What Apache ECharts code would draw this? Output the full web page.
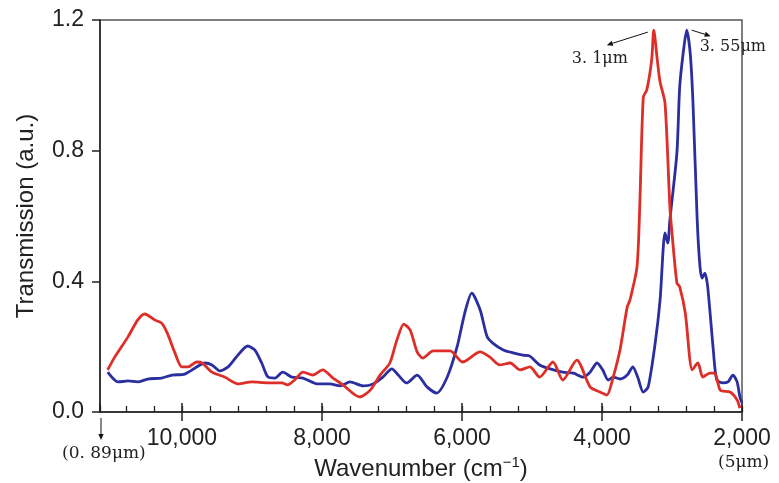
<!DOCTYPE html>
<html>
<head>
<meta charset="utf-8">
<script src="https://cdn.jsdelivr.net/npm/echarts@6/dist/echarts.min.js"></script>
<style>
  html, body { margin: 0; padding: 0; background: #fff; }
  #chart { width: 779px; height: 483px; }
</style>
</head>
<body>
<div id="chart"></div>
<script>
// Transmission spectra of two samples, wavenumber in cm^-1 (axis runs high to low)
const redWavenumber = [11060, 10960, 10770, 10630, 10530, 10390, 10290, 10210, 10100, 10000,
  9910, 9790, 9710, 9570, 9390, 9200, 9000, 8770, 8570, 8490,
  8390, 8270, 8130, 7990, 7840, 7700, 7460, 7310, 7170, 7030,
  6930, 6830, 6740, 6640, 6560, 6410, 6170, 5990, 5740, 5600,
  5460, 5310, 5170, 5030, 4890, 4700, 4560, 4360, 4170, 4030,
  3930, 3840, 3740, 3640, 3600, 3500, 3460, 3410, 3360, 3290,
  3260, 3210, 3170, 3100, 3030, 3000, 2930, 2890, 2810, 2710,
  2630, 2560, 2460, 2390, 2310, 2170, 2070, 2030];
const redValue = [0.129, 0.168, 0.230, 0.282, 0.300, 0.282, 0.272, 0.242, 0.181, 0.138,
  0.138, 0.153, 0.150, 0.122, 0.107, 0.086, 0.092, 0.089, 0.089, 0.083,
  0.098, 0.122, 0.113, 0.129, 0.104, 0.083, 0.046, 0.067, 0.113, 0.150,
  0.220, 0.269, 0.251, 0.184, 0.165, 0.187, 0.187, 0.153, 0.184, 0.168,
  0.144, 0.150, 0.129, 0.138, 0.107, 0.153, 0.098, 0.159, 0.077, 0.061,
  0.052, 0.107, 0.193, 0.321, 0.343, 0.444, 0.634, 0.964, 0.986, 1.078,
  1.169, 1.078, 1.010, 0.946, 0.628, 0.548, 0.395, 0.383, 0.303, 0.129,
  0.150, 0.107, 0.119, 0.119, 0.067, 0.061, 0.037, 0.012];

const blueWavenumber = [11060, 10910, 10770, 10630, 10490, 10290, 10140, 9960, 9810, 9670,
  9570, 9460, 9340, 9200, 9060, 8960, 8860, 8770, 8670, 8560,
  8430, 8270, 8070, 7890, 7740, 7600, 7410, 7270, 7130, 7000,
  6910, 6790, 6640, 6500, 6360, 6210, 6070, 5960, 5860, 5740,
  5640, 5560, 5410, 5270, 5130, 5030, 4890, 4740, 4560, 4410,
  4270, 4170, 4070, 3990, 3910, 3840, 3740, 3640, 3560, 3490,
  3410, 3340, 3240, 3170, 3100, 3060, 3030, 2930, 2890, 2840,
  2790, 2740, 2700, 2640, 2600, 2570, 2530, 2490, 2410, 2360,
  2270, 2200, 2130, 2070, 2030, 2000];
const blueValue = [0.122, 0.092, 0.095, 0.092, 0.101, 0.104, 0.113, 0.116, 0.135, 0.150,
  0.144, 0.126, 0.138, 0.174, 0.202, 0.190, 0.150, 0.107, 0.104, 0.122,
  0.107, 0.104, 0.086, 0.086, 0.080, 0.092, 0.080, 0.086, 0.107, 0.132,
  0.113, 0.089, 0.113, 0.077, 0.058, 0.107, 0.199, 0.303, 0.364, 0.312,
  0.230, 0.211, 0.190, 0.181, 0.174, 0.171, 0.144, 0.132, 0.122, 0.119,
  0.107, 0.122, 0.150, 0.129, 0.098, 0.107, 0.101, 0.113, 0.138, 0.107,
  0.061, 0.077, 0.211, 0.343, 0.548, 0.517, 0.588, 0.793, 0.995, 1.099,
  1.169, 1.099, 0.946, 0.588, 0.444, 0.410, 0.425, 0.383, 0.190, 0.098,
  0.089, 0.092, 0.113, 0.092, 0.046, 0.028];

// Axis ticks and annotation labels
const xMajorTicks = [2000, 4000, 6000, 8000, 10000];
const yTicks = [0.0, 0.4, 0.8, 1.2];
const shortEndLabel = '(0. 89μm)';
const longEndLabel = '(5μm)';
const redPeakLabel = '3. 1μm';
const bluePeakLabel = '3. 55μm';

const X_MIN = 2000, X_MAX = 11170;
const RED = 'rgb(221,46,40)';
const BLUE = 'rgb(42,46,158)';
const INK = '#222';
const SANS = 'Liberation Sans, Arial, sans-serif';

const pairs = (xs, ys) => xs.map((x, i) => [x, ys[i]]);
const chart = echarts.init(document.getElementById('chart'));

const baseX = {
  type: 'value', min: X_MIN, max: X_MAX, inverse: true, position: 'bottom',
  splitLine: { show: false }
};

chart.setOption({
  animation: false,
  grid: { left: 100, right: 37, top: 20, bottom: 71, show: true,
          outerBoundsMode: 'none', containLabel: false,
          borderColor: '#555', borderWidth: 1.5 },
  xAxis: [
    Object.assign({}, baseX, {
      interval: xMajorTicks[1] - xMajorTicks[0],
      axisLine: { lineStyle: { color: INK, width: 1.5 } },
      axisTick: { inside: false, length: 9, lineStyle: { color: INK, width: 1.5 } },
      axisLabel: { showMaxLabel: false, margin: 15, fontSize: 23, color: INK, fontFamily: SANS,
                   formatter: v => xMajorTicks.includes(v) ? v.toLocaleString('en-US') : '' },
      name: 'Wavenumber (cm{sup|−1})', nameLocation: 'middle', nameGap: 42,
      nameTextStyle: { fontSize: 24, color: INK, fontFamily: SANS, lineHeight: 28,
        rich: { sup: { fontSize: 15, verticalAlign: 'top', lineHeight: 28, color: INK,
                       fontFamily: SANS } } }
    }),
    Object.assign({}, baseX, {
      interval: 400,
      axisLine: { show: false },
      axisTick: { inside: true, length: 6, lineStyle: { color: INK, width: 1.3 } },
      axisLabel: { show: false }
    }),
    Object.assign({}, baseX, {
      interval: 2000,
      axisLine: { show: false },
      axisTick: { inside: true, length: 9, lineStyle: { color: INK, width: 1.5 } },
      axisLabel: { show: false }
    })
  ],
  yAxis: {
    type: 'value', min: yTicks[0], max: yTicks[yTicks.length - 1],
    interval: yTicks[1] - yTicks[0],
    splitLine: { show: false },
    axisLine: { show: true, lineStyle: { color: INK, width: 1.5 } },
    axisTick: { show: true, inside: false, length: 8, lineStyle: { color: INK, width: 1.5 } },
    axisLabel: { margin: 16, fontSize: 23, color: INK, fontFamily: SANS,
                 formatter: v => v.toFixed(1) },
    name: 'Transmission (a.u.)', nameLocation: 'middle', nameGap: 62,
    nameTextStyle: { fontSize: 24, color: INK, fontFamily: SANS }
  },
  series: [
    { type: 'line', xAxisIndex: 0, data: pairs(redWavenumber, redValue), showSymbol: false,
      smooth: 0.25, lineStyle: { color: RED, width: 2.8 }, z: 3 },
    { type: 'line', xAxisIndex: 0, data: pairs(blueWavenumber, blueValue), showSymbol: false,
      smooth: 0.25, lineStyle: { color: BLUE, width: 2.8 }, z: 2 }
  ]
});

// Annotation arrows and wavelength labels placed from the axis scales
function arrow(x0, y0, x1, y1) {
  const ang = Math.atan2(y1 - y0, x1 - x0);
  const L = 6, W = 2.6;
  const bx = x1 - L * Math.cos(ang), by = y1 - L * Math.sin(ang);
  const nx = -Math.sin(ang) * W, ny = Math.cos(ang) * W;
  return [
    { type: 'line', shape: { x1: x0, y1: y0, x2: bx, y2: by },
      style: { stroke: '#111', lineWidth: 1 }, z: 10 },
    { type: 'polygon', shape: { points: [[x1, y1], [bx + nx, by + ny], [bx - nx, by - ny]] },
      style: { fill: '#111' }, z: 10 }
  ];
}
const px = (x, y) => chart.convertToPixel({ xAxisIndex: 0, yAxisIndex: 0 }, [x, y]);
const iR = redValue.indexOf(Math.max(...redValue));
const iB = blueValue.indexOf(Math.max(...blueValue));
const pR = px(redWavenumber[iR], redValue[iR]);
const pB = px(blueWavenumber[iB], blueValue[iB]);
const pL = px(X_MAX, 0);
const pRt = px(X_MIN, 0);
const serif = { fontFamily: 'DejaVu Serif, Liberation Serif, serif', fontSize: 16, fill: '#222' };

chart.setOption({
  graphic: [].concat(
    arrow(pR[0] - 6, pR[1] + 2, pR[0] - 47, pR[1] + 15),
    arrow(pB[0] + 5, pB[1] + 0, pB[0] + 24, pB[1] + 6),
    arrow(pL[0] + 1, pL[1] + 6, pL[0] + 1, pL[1] + 28),
    [
      { type: 'text', x: pR[0] - 82, y: pR[1] + 21,
        style: Object.assign({ text: redPeakLabel }, serif), z: 10 },
      { type: 'text', x: pB[0] + 13, y: pB[1] + 9,
        style: Object.assign({ text: bluePeakLabel }, serif), z: 10 },
      { type: 'text', x: pL[0] - 38, y: pL[1] + 33,
        style: Object.assign({ text: shortEndLabel }, serif, { fontSize: 17 }), z: 10 },
      { type: 'text', x: pRt[0] - 24, y: pRt[1] + 42,
        style: Object.assign({ text: longEndLabel }, serif, { fontSize: 17 }), z: 10 }
    ]
  )
});
</script>
</body>
</html>
